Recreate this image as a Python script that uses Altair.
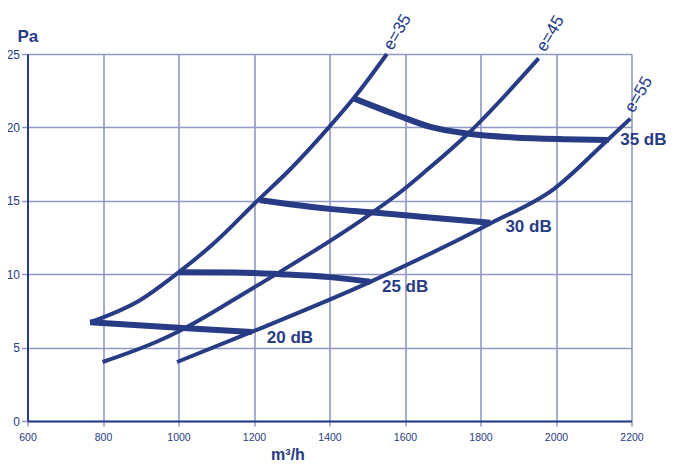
import altair as alt
import pandas as pd

# ---- data ----
e35_x = [766, 898, 1001, 1093, 1211, 1296, 1397, 1464, 1552]
e35_y = [6.73, 8.23, 10.14, 12.09, 15.05, 17.15, 19.97, 21.98, 25.0]
e45_x = [799, 951, 1000, 1200, 1269, 1508, 1588, 1649, 1764, 1954]
e45_y = [4.02, 5.5, 6.1, 9.1, 10.16, 14.1, 15.6, 16.9, 19.5, 24.7]
e55_x = [996, 1194, 1508, 1826, 1994, 2136, 2197]
e55_y = [4.02, 6.07, 9.48, 13.46, 15.8, 19.13, 20.6]

db20_x = [766, 1000, 1194]
db20_y = [6.73, 6.35, 6.07]
db25_x = [1001, 1150, 1270, 1400, 1508]
db25_y = [10.14, 10.12, 10.0, 9.8, 9.48]
db30_x = [1215, 1300, 1400, 1517, 1650, 1826]
db30_y = [15.05, 14.75, 14.45, 14.2, 13.9, 13.5]
db35_x = [1464, 1579, 1667, 1764, 1888, 2020, 2140]
db35_y = [21.98, 20.84, 20.04, 19.59, 19.32, 19.2, 19.15]

db_labels = ["20 dB", "25 dB", "30 dB", "35 dB"]
db_label_x = [1234, 1539, 1866, 2170]
db_label_y = [5.62, 9.13, 13.2, 19.13]

e_labels = ["e=35", "e=45", "e=55"]
e_label_x = [1555, 1960, 2194]
e_label_y = [25.35, 25.25, 21.1]

x_ticks = [600, 800, 1000, 1200, 1400, 1600, 1800, 2000, 2200]
y_ticks = [0, 5, 10, 15, 20, 25]

NAVY = "#283b85"
GRID = "#8f99c4"
FONT = "Liberation Sans"


def build(series_list, kind):
    rows = []
    for name, xs, ys in series_list:
        for i, (x, y) in enumerate(zip(xs, ys)):
            rows.append({"series": name, "x": x, "y": y, "i": i, "kind": kind})
    return pd.DataFrame(rows)


e_df = build([("e=35", e35_x, e35_y), ("e=45", e45_x, e45_y), ("e=55", e55_x, e55_y)], "e")
db_df = build([("20", db20_x, db20_y), ("25", db25_x, db25_y),
               ("30", db30_x, db30_y), ("35", db35_x, db35_y)], "db")
dbl_df = pd.DataFrame({"label": db_labels, "x": db_label_x, "y": db_label_y})
el_df = pd.DataFrame({"label": e_labels, "x": e_label_x, "y": e_label_y})

xscale = alt.Scale(domain=[600, 2200], nice=False, zero=False)
yscale = alt.Scale(domain=[0, 25], nice=False)

xaxis = alt.Axis(values=x_ticks, format="d", labelFont=FONT, labelFontSize=10.5, labelColor=NAVY,
                 tickColor=GRID, tickSize=5, tickWidth=1.5, domainColor=NAVY, domainWidth=2,
                 gridColor=GRID, gridWidth=1.6, labelPadding=6, labelFlush=False,
                 title="m³/h", titleFont=FONT, titleFontSize=16, titleFontWeight="bold",
                 titleColor=NAVY, titleX=260, titleY=38, titleAlign="center",
                 titleBaseline="alphabetic")
yaxis = alt.Axis(values=y_ticks, format="d", labelFont=FONT, labelFontSize=12, labelColor=NAVY,
                 tickColor=GRID, tickSize=6, tickWidth=1.5, domainColor=NAVY, domainWidth=2,
                 gridColor=GRID, gridWidth=1.6, labelPadding=2, labelFlush=False,
                 title="Pa", titleFont=FONT, titleFontSize=17, titleFontWeight="bold",
                 titleColor=NAVY, titleAngle=0, titleX=-10.5, titleY=-13, titleAlign="left",
                 titleBaseline="alphabetic")

e_lines = alt.Chart(e_df).mark_line(color=NAVY, strokeWidth=4, interpolate="monotone").encode(
    x=alt.X("x:Q", scale=xscale, axis=xaxis),
    y=alt.Y("y:Q", scale=yscale, axis=yaxis),
    detail="series:N",
    order="i:Q",
)
db_lines = alt.Chart(db_df).mark_line(color=NAVY, strokeWidth=6, interpolate="monotone").encode(
    x=alt.X("x:Q", scale=xscale),
    y=alt.Y("y:Q", scale=yscale),
    detail="series:N",
    order="i:Q",
)
db_text = alt.Chart(dbl_df).mark_text(font=FONT, fontSize=17, fontWeight="bold", color=NAVY,
                                      align="left", baseline="middle").encode(
    x=alt.X("x:Q", scale=xscale), y=alt.Y("y:Q", scale=yscale), text="label:N")
e_text = alt.Chart(el_df).mark_text(font=FONT, fontSize=17, color=NAVY, angle=300,
                                    align="left", baseline="middle").encode(
    x=alt.X("x:Q", scale=xscale), y=alt.Y("y:Q", scale=yscale), text="label:N")

chart = alt.layer(e_lines, db_lines, db_text, e_text).properties(
    width=604, height=367,
    autosize=alt.AutoSizeParams(type="none"),
    padding={"left": 19.5, "top": 46, "right": 34.5, "bottom": 45},
    background="white",
).configure_view(stroke="transparent")

chart.save("out.html", embed_options={"renderer": "svg", "actions": False})
